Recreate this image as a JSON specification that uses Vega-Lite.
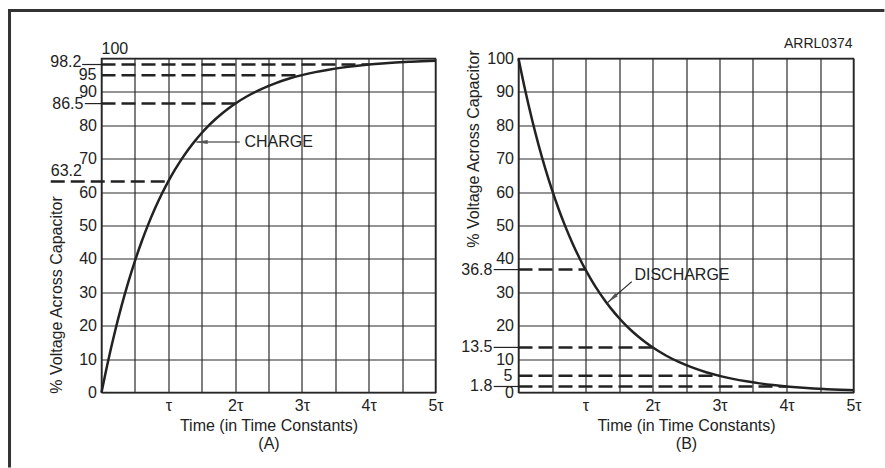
{
  "$schema": "https://vega.github.io/schema/vega-lite/v6.json",
  "padding": {"left": 5.5, "top": 6.5, "right": -3, "bottom": -3},
  "bounds": "flush",
  "spacing": 83,
  "background": "white",
  "config": {
    "font": "Liberation Sans",
    "view": {"stroke": "#222", "strokeWidth": 1.5},
    "axis": {
      "grid": true, "gridColor": "#2b2b2b", "gridWidth": 1.2, "gridOpacity": 1,
      "ticks": false, "domain": false,
      "labelFontSize": 16, "labelColor": "#222", "labelFont": "Liberation Sans",
      "titleFontSize": 16, "titleFontWeight": "normal", "titleColor": "#222", "titleFont": "Liberation Sans",
      "labelOverlap": false, "labelBound": false, "labelFlush": false
    },
    "axisX": {"labelPadding": 5, "titlePadding": 4, "titleLineHeight": 18},
    "axisY": {"labelPadding": 5},
    "text": {"font": "Liberation Sans", "fontSize": 16, "color": "#222"}
  },
  "datasets": {
    "curve": [
      {"t": 0, "charge": 0, "discharge": 100},
      {"t": 0.1, "charge": 9.52, "discharge": 90.48},
      {"t": 0.2, "charge": 18.13, "discharge": 81.87},
      {"t": 0.3, "charge": 25.92, "discharge": 74.08},
      {"t": 0.4, "charge": 32.97, "discharge": 67.03},
      {"t": 0.5, "charge": 39.35, "discharge": 60.65},
      {"t": 0.6, "charge": 45.12, "discharge": 54.88},
      {"t": 0.7, "charge": 50.34, "discharge": 49.66},
      {"t": 0.8, "charge": 55.07, "discharge": 44.93},
      {"t": 0.9, "charge": 59.34, "discharge": 40.66},
      {"t": 1.0, "charge": 63.21, "discharge": 36.79},
      {"t": 1.1, "charge": 66.71, "discharge": 33.29},
      {"t": 1.2, "charge": 69.88, "discharge": 30.12},
      {"t": 1.3, "charge": 72.75, "discharge": 27.25},
      {"t": 1.4, "charge": 75.34, "discharge": 24.66},
      {"t": 1.5, "charge": 77.69, "discharge": 22.31},
      {"t": 1.6, "charge": 79.81, "discharge": 20.19},
      {"t": 1.7, "charge": 81.73, "discharge": 18.27},
      {"t": 1.8, "charge": 83.47, "discharge": 16.53},
      {"t": 1.9, "charge": 85.04, "discharge": 14.96},
      {"t": 2.0, "charge": 86.47, "discharge": 13.53},
      {"t": 2.2, "charge": 88.92, "discharge": 11.08},
      {"t": 2.4, "charge": 90.93, "discharge": 9.07},
      {"t": 2.6, "charge": 92.57, "discharge": 7.43},
      {"t": 2.8, "charge": 93.92, "discharge": 6.08},
      {"t": 3.0, "charge": 95.02, "discharge": 4.98},
      {"t": 3.2, "charge": 95.92, "discharge": 4.08},
      {"t": 3.4, "charge": 96.66, "discharge": 3.34},
      {"t": 3.6, "charge": 97.27, "discharge": 2.73},
      {"t": 3.8, "charge": 97.76, "discharge": 2.24},
      {"t": 4.0, "charge": 98.17, "discharge": 1.83},
      {"t": 4.2, "charge": 98.5, "discharge": 1.5},
      {"t": 4.4, "charge": 98.77, "discharge": 1.23},
      {"t": 4.6, "charge": 98.99, "discharge": 1.01},
      {"t": 4.8, "charge": 99.18, "discharge": 0.82},
      {"t": 5.0, "charge": 99.33, "discharge": 0.67}
    ],
    "frame": [
      {"x0": -1.4, "x1": 11.72, "y0": 114.37, "y1": 114.37},
      {"x0": -1.377, "x1": -1.377, "y0": 114.82, "y1": -22.46}
    ],
    "leftDash": [
      {"t0": 0, "t1": 4, "v": 98.2},
      {"t0": 0, "t1": 3, "v": 95},
      {"t0": 0, "t1": 2, "v": 86.5},
      {"t0": -0.76, "t1": 1, "v": 63.2}
    ],
    "leftLeader": [
      {"t0": -0.29, "t1": 0, "v": 98.2},
      {"t0": -0.25, "t1": 0, "v": 86.5}
    ],
    "leftLabelMid": [
      {"t": -0.075, "v": 95, "label": "95"},
      {"t": -0.27, "v": 86.5, "label": "86.5"}
    ],
    "leftLabelHigh": [
      {"t": -0.3, "v": 98.2, "label": "98.2"}
    ],
    "leftLabelAbove": [
      {"t": 0, "v": 100, "label": "100"},
      {"t": -0.76, "v": 63.2, "label": "63.2"}
    ],
    "chargeNote": [
      {"t0": 1.42, "t1": 2.07, "v": 75, "th": 1.5, "tl": 2.14, "label": "CHARGE"}
    ],
    "rightDash": [
      {"t0": 0, "t1": 1, "v": 36.8},
      {"t0": 0, "t1": 2, "v": 13.5},
      {"t0": 0, "t1": 3, "v": 5},
      {"t0": 0, "t1": 4, "v": 1.8}
    ],
    "rightLeader": [
      {"t0": -0.37, "t1": 0, "v": 36.8},
      {"t0": -0.37, "t1": 0, "v": 13.5},
      {"t0": -0.37, "t1": 0, "v": 1.8}
    ],
    "rightLabels": [
      {"t": -0.39, "v": 36.8, "label": "36.8"},
      {"t": -0.39, "v": 13.5, "label": "13.5"},
      {"t": -0.39, "v": 1.8, "label": "1.8"},
      {"t": -0.09, "v": 5, "label": "5"}
    ],
    "dischargeNote": [
      {"t0": 1.69, "v0": 33.2, "t1": 1.33, "v1": 26.9, "th": 1.395, "vh": 28.1, "tl": 1.73, "vl": 35.3, "label": "DISCHARGE"}
    ],
    "credit": [
      {"t": 5, "v": 104.2, "label": "ARRL0374"}
    ]
  },
  "hconcat": [
    {
      "width": 334,
      "height": 334,
      "layer": [
        {
          "data": {"name": "curve"},
          "mark": {"type": "line", "color": "#222", "strokeWidth": 2.5, "interpolate": "monotone"},
          "encoding": {
            "x": {
              "field": "t", "type": "quantitative",
              "scale": {"domain": [0, 5], "nice": false, "zero": false},
              "axis": {
                "values": [0, 0.5, 1, 1.5, 2, 2.5, 3, 3.5, 4, 4.5, 5],
                "tickCount": 40,
                "labelExpr": "datum.value == 1 ? 'τ' : (datum.value > 0 && datum.value % 1 == 0 ? datum.value + 'τ' : '')",
                "title": ["Time (in Time Constants)", "(A)"]
              }
            },
            "y": {
              "field": "charge", "type": "quantitative",
              "scale": {"domain": [0, 100], "nice": false},
              "axis": {
                "values": [0, 10, 20, 30, 40, 50, 60, 70, 80, 90, 100],
                "tickCount": 40,
                "labelExpr": "datum.value == 100 ? '' : datum.label",
                "title": "% Voltage Across Capacitor",
                "titleX": -45, "titleY": 236, "titleAlign": "center", "titleBaseline": "middle", "titleAngle": 270
              }
            }
          }
        },
        {
          "data": {"name": "frame"},
          "mark": {"type": "rule", "color": "#333", "strokeWidth": 3, "strokeCap": "butt"},
          "encoding": {
            "x": {"field": "x0", "type": "quantitative"},
            "x2": {"field": "x1"},
            "y": {"field": "y0", "type": "quantitative"},
            "y2": {"field": "y1"}
          }
        },
        {
          "data": {"name": "leftDash"},
          "mark": {"type": "rule", "color": "#222", "strokeWidth": 2.5, "strokeDash": [14, 6], "strokeCap": "butt"},
          "encoding": {
            "x": {"field": "t0", "type": "quantitative"},
            "x2": {"field": "t1"},
            "y": {"field": "v", "type": "quantitative"}
          }
        },
        {
          "data": {"name": "leftLeader"},
          "mark": {"type": "rule", "color": "#222", "strokeWidth": 1.2},
          "encoding": {
            "x": {"field": "t0", "type": "quantitative"},
            "x2": {"field": "t1"},
            "y": {"field": "v", "type": "quantitative"}
          }
        },
        {
          "data": {"name": "leftLabelMid"},
          "mark": {"type": "text", "align": "right", "baseline": "middle"},
          "encoding": {
            "x": {"field": "t", "type": "quantitative"},
            "y": {"field": "v", "type": "quantitative"},
            "text": {"field": "label"}
          }
        },
        {
          "data": {"name": "leftLabelHigh"},
          "mark": {"type": "text", "align": "right", "baseline": "middle", "dy": -3},
          "encoding": {
            "x": {"field": "t", "type": "quantitative"},
            "y": {"field": "v", "type": "quantitative"},
            "text": {"field": "label"}
          }
        },
        {
          "data": {"name": "leftLabelAbove"},
          "mark": {"type": "text", "align": "left", "baseline": "middle", "dy": -10},
          "encoding": {
            "x": {"field": "t", "type": "quantitative"},
            "y": {"field": "v", "type": "quantitative"},
            "text": {"field": "label"}
          }
        },
        {
          "data": {"name": "chargeNote"},
          "mark": {"type": "rule", "color": "#222", "strokeWidth": 1.2},
          "encoding": {
            "x": {"field": "t0", "type": "quantitative"},
            "x2": {"field": "t1"},
            "y": {"field": "v", "type": "quantitative"}
          }
        },
        {
          "data": {"name": "chargeNote"},
          "mark": {"type": "point", "shape": "M-1,0L1,-0.32L1,0.32Z", "filled": true, "color": "#555", "opacity": 1, "size": 144},
          "encoding": {
            "x": {"field": "th", "type": "quantitative"},
            "y": {"field": "v", "type": "quantitative"}
          }
        },
        {
          "data": {"name": "chargeNote"},
          "mark": {"type": "text", "align": "left", "baseline": "middle"},
          "encoding": {
            "x": {"field": "tl", "type": "quantitative"},
            "y": {"field": "v", "type": "quantitative"},
            "text": {"field": "label"}
          }
        }
      ]
    },
    {
      "width": 335,
      "height": 334,
      "layer": [
        {
          "data": {"name": "curve"},
          "mark": {"type": "line", "color": "#222", "strokeWidth": 2.5, "interpolate": "monotone"},
          "encoding": {
            "x": {
              "field": "t", "type": "quantitative",
              "scale": {"domain": [0, 5], "nice": false, "zero": false},
              "axis": {
                "values": [0, 0.5, 1, 1.5, 2, 2.5, 3, 3.5, 4, 4.5, 5],
                "tickCount": 40,
                "labelExpr": "datum.value == 1 ? 'τ' : (datum.value > 0 && datum.value % 1 == 0 ? datum.value + 'τ' : '')",
                "title": ["Time (in Time Constants)", "(B)"]
              }
            },
            "y": {
              "field": "discharge", "type": "quantitative",
              "scale": {"domain": [0, 100], "nice": false},
              "axis": {
                "values": [0, 10, 20, 30, 40, 50, 60, 70, 80, 90, 100],
                "tickCount": 40,
                "title": "% Voltage Across Capacitor",
                "titleX": -45, "titleY": 90, "titleAlign": "center", "titleBaseline": "middle", "titleAngle": 270
              }
            }
          }
        },
        {
          "data": {"name": "rightDash"},
          "mark": {"type": "rule", "color": "#222", "strokeWidth": 2.5, "strokeDash": [14, 6], "strokeCap": "butt"},
          "encoding": {
            "x": {"field": "t0", "type": "quantitative"},
            "x2": {"field": "t1"},
            "y": {"field": "v", "type": "quantitative"}
          }
        },
        {
          "data": {"name": "rightLeader"},
          "mark": {"type": "rule", "color": "#222", "strokeWidth": 1.2},
          "encoding": {
            "x": {"field": "t0", "type": "quantitative"},
            "x2": {"field": "t1"},
            "y": {"field": "v", "type": "quantitative"}
          }
        },
        {
          "data": {"name": "rightLabels"},
          "mark": {"type": "text", "align": "right", "baseline": "middle"},
          "encoding": {
            "x": {"field": "t", "type": "quantitative"},
            "y": {"field": "v", "type": "quantitative"},
            "text": {"field": "label"}
          }
        },
        {
          "data": {"name": "dischargeNote"},
          "mark": {"type": "rule", "color": "#222", "strokeWidth": 1.2},
          "encoding": {
            "x": {"field": "t0", "type": "quantitative"},
            "x2": {"field": "t1"},
            "y": {"field": "v0", "type": "quantitative"},
            "y2": {"field": "v1"}
          }
        },
        {
          "data": {"name": "dischargeNote"},
          "mark": {"type": "point", "shape": "M-1,0L1,-0.32L1,0.32Z", "filled": true, "color": "#555", "opacity": 1, "size": 144, "angle": 319},
          "encoding": {
            "x": {"field": "th", "type": "quantitative"},
            "y": {"field": "vh", "type": "quantitative"}
          }
        },
        {
          "data": {"name": "dischargeNote"},
          "mark": {"type": "text", "align": "left", "baseline": "middle"},
          "encoding": {
            "x": {"field": "tl", "type": "quantitative"},
            "y": {"field": "vl", "type": "quantitative"},
            "text": {"field": "label"}
          }
        },
        {
          "data": {"name": "credit"},
          "mark": {"type": "text", "align": "right", "baseline": "middle", "fontSize": 14, "dx": -1},
          "encoding": {
            "x": {"field": "t", "type": "quantitative"},
            "y": {"field": "v", "type": "quantitative"},
            "text": {"field": "label"}
          }
        }
      ]
    }
  ]
}
